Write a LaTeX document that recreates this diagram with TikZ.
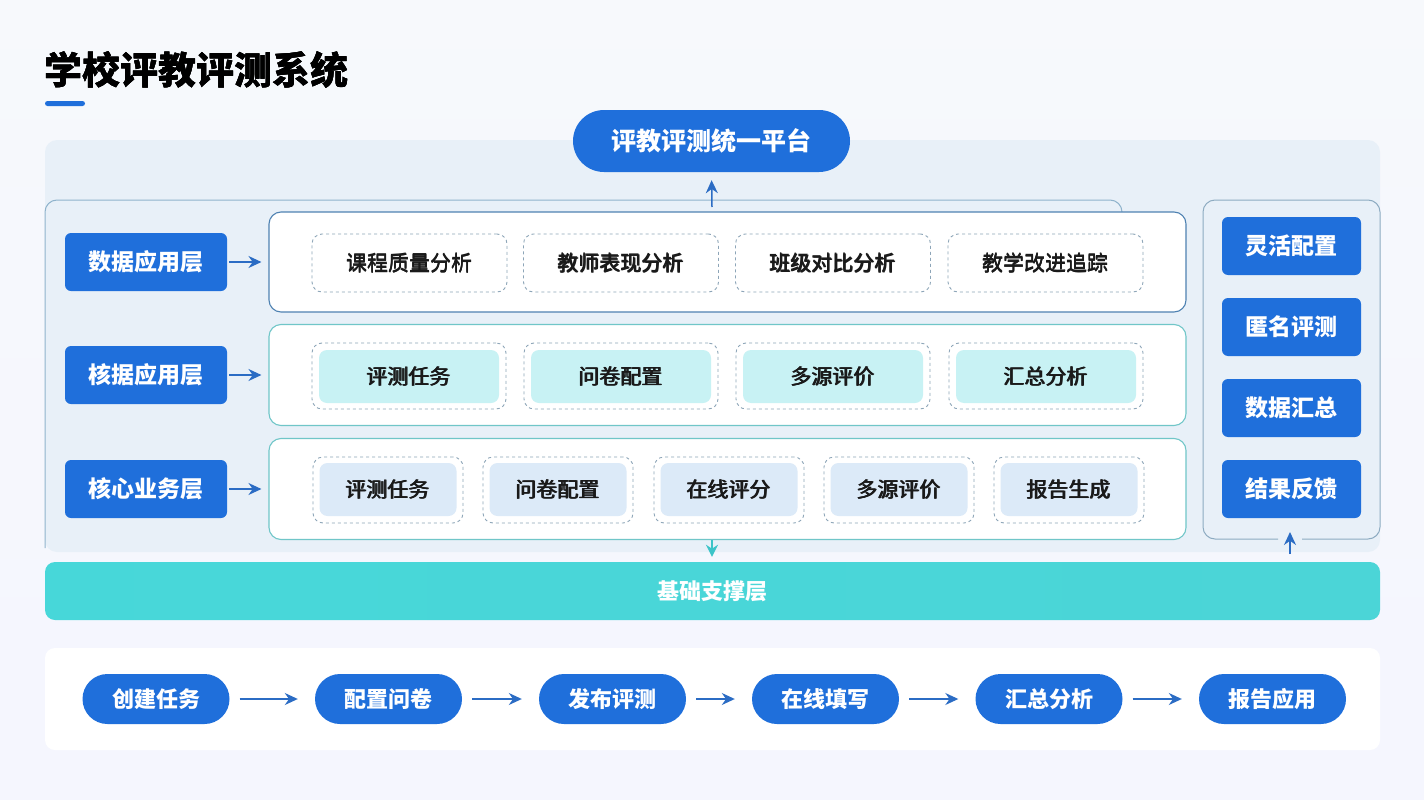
\documentclass[tikz,border=0pt]{standalone}
\usepackage{fontspec}
\setmainfont{Noto Sans CJK SC}
\usetikzlibrary{arrows.meta}
\newcommand\mbold[1]{\leavevmode\rlap{#1}\rlap{\raisebox{0.45pt}{#1}}\hspace{0.5pt}#1}
\definecolor{cblue}{HTML}{1F6FDB}
\definecolor{ablue}{HTML}{2B6CC4}
\definecolor{cteal}{HTML}{3CC4C8}
\definecolor{bgc}{HTML}{F1F5FA}
\definecolor{panelc}{HTML}{E8F0F8}
\definecolor{lay1}{HTML}{4F82B2}
\definecolor{lay2}{HTML}{70C6C8}
\definecolor{dashc}{HTML}{8DA5B8}
\definecolor{cyanf}{HTML}{C8F2F4}
\definecolor{bluef}{HTML}{DCEAF8}
\definecolor{framec}{HTML}{8FB3CC}
\definecolor{basec}{HTML}{4BD5D7}
\definecolor{txt}{HTML}{1A1A1A}
\tikzset{
  lab/.style={fill=cblue, text=white, font=\bfseries\fontsize{23}{25}\selectfont, rounded corners=6pt, minimum width=162pt, minimum height=58pt, inner sep=0pt},
  layerA/.style={draw=lay1, line width=1.1pt, fill=white, rounded corners=12pt, minimum width=917pt, minimum height=100pt, inner sep=0pt},
  layerB/.style={draw=lay2, line width=1.1pt, fill=white, rounded corners=12pt, minimum width=917pt, minimum height=101pt, inner sep=0pt},
  cardA/.style={draw=dashc, dashed, line width=0.9pt, fill=white, rounded corners=10pt, minimum width=195pt, minimum height=58pt, inner sep=0pt, text=txt, font=\fontsize{21}{23}\selectfont},
  cardBo/.style={draw=dashc, dashed, line width=0.9pt, fill=white, rounded corners=10pt, minimum width=194pt, minimum height=66pt, inner sep=0pt},
  cardBi/.style={fill=cyanf, rounded corners=8pt, minimum width=180pt, minimum height=53pt, inner sep=0pt, text=txt, font=\fontsize{21}{23}\selectfont},
  cardCo/.style={draw=dashc, dashed, line width=0.9pt, fill=white, rounded corners=10pt, minimum width=150pt, minimum height=66pt, inner sep=0pt},
  cardCi/.style={fill=bluef, rounded corners=8pt, minimum width=137pt, minimum height=53pt, inner sep=0pt, text=txt, font=\fontsize{21}{23}\selectfont},
  rbtn/.style={fill=cblue, text=white, font=\bfseries\fontsize{23}{25}\selectfont, rounded corners=6pt, minimum width=139pt, minimum height=58pt, inner sep=0pt},
  pill/.style={fill=cblue, text=white, font=\bfseries\fontsize{22}{24}\selectfont, rounded corners=25pt, minimum width=147pt, minimum height=50pt, inner sep=0pt},
  arr/.style={-{Stealth[length=13pt,width=12pt]}, draw=ablue, line width=1.5pt},
  tarr/.style={-{Stealth[length=12pt,width=12pt]}, draw=cteal, line width=2pt},
}
\begin{document}
\begin{tikzpicture}[x=1pt,y=-1pt]
\useasboundingbox (0,0) rectangle (1424,800);
% background
\shade[top color=bgc!60!white, bottom color=bgc!85!blue!20!white] (0,0) rectangle (1424,800);
% title
\node[anchor=west, inner sep=0pt, text=black, font=\bfseries\fontsize{38}{40}\selectfont] (title) at (44,70) {\mbold{学校评教评测系统}};
\fill[cblue, rounded corners=2.5pt] (45,101) rectangle (85,106);
% big light panel
\fill[panelc, rounded corners=12pt] (45,140) rectangle (1380,552);
% frame line
\draw[framec, line width=1pt, rounded corners=12pt] (1122,212) -- (1122,200) -- (45,200) -- (45,548);
% platform
\node[fill=cblue, text=white, font=\bfseries\fontsize{25}{27}\selectfont, rounded corners=31pt, minimum width=277pt, minimum height=62pt, inner sep=0pt] (plat) at (711.5,141) {评教评测统一平台};
% layers
\node[layerA] (L1) at (727.5,262) {};
\node[layerB] (L2) at (727.5,375) {};
\node[layerB] (L3) at (727.5,489) {};
\coordinate (upfrom) at (712,207);
\draw[arr, shorten >=8pt] (upfrom) -- (plat.south);
% labels
\node[lab] (l1) at (146,262) {数据应用层};
\node[lab] (l2) at (146,375) {核据应用层};
\node[lab] (l3) at (146,489) {核心业务层};
\draw[arr, shorten <=2pt, shorten >=7pt] (l1) -- (L1);
\draw[arr, shorten <=2pt, shorten >=7pt] (l2) -- (L2);
\draw[arr, shorten <=2pt, shorten >=7pt] (l3) -- (L3);
% row 1
\node[cardA] (a1) at (409.5,263) {\mbold{课程质量分析}};
\node[cardA] (a2) at (621,263) {\mbold{教师表现分析}};
\node[cardA] (a3) at (833,263) {\mbold{班级对比分析}};
\node[cardA] (a4) at (1045.5,263) {\mbold{教学改进追踪}};
% row 2
\foreach \x/\t/\n in {409/评测任务/1, 621/问卷配置/2, 833/多源评价/3, 1046/汇总分析/4}{
  \node[cardBo] (b\n o) at (\x,376) {};
  \node[cardBi] (b\n) at (\x,376.5) {\mbold{\t}};
}
% row 3
\foreach \x/\t/\n in {388/评测任务/1, 558/问卷配置/2, 729/在线评分/3, 899/多源评价/4, 1069/报告生成/5}{
  \node[cardCo] (c\n o) at (\x,490) {};
  \node[cardCi] (c\n) at (\x,489.5) {\mbold{\t}};
}
% right panel
\draw[framec!85!gray, line width=1pt, rounded corners=12pt] (1302,539) -- (1380,539) -- (1380,200) -- (1203,200) -- (1203,539) -- (1278,539);
\node[rbtn] (r1) at (1291.5,246) {灵活配置};
\node[rbtn] (r2) at (1291.5,327) {匿名评测};
\node[rbtn] (r3) at (1291.5,408) {数据汇总};
\node[rbtn] (r4) at (1291.5,489) {结果反馈};
% base bar
\shade[left color=basec!95!cyan, right color=basec, rounded corners=10pt] (45,562) rectangle (1380,620);
\node[text=white, font=\bfseries\fontsize{22}{24}\selectfont, inner sep=0pt, minimum width=1335pt, minimum height=58pt] (base) at (712.5,591) {基础支撑层};
\coordinate (dn) at (712,540);
\draw[tarr, shorten >=5pt] (dn) -- (base.north -| dn);
\coordinate (rpup) at (1290,532);
\coordinate (rpfrom) at (1290,554);
\draw[arr, line width=1.4pt] (rpfrom) -- (rpup);
% bottom panel
\fill[white, rounded corners=10pt] (45,648) rectangle (1380,750);
\node[pill] (p1) at (156,699) {创建任务};
\node[pill] (p2) at (388.5,699) {配置问卷};
\node[pill] (p3) at (612.5,699) {发布评测};
\node[pill] (p4) at (825.5,699) {在线填写};
\node[pill] (p5) at (1049,699) {汇总分析};
\node[pill] (p6) at (1272.5,699) {报告应用};
\foreach \a/\b in {p1/p2, p2/p3, p3/p4, p4/p5, p5/p6}{
  \draw[arr, line width=1.4pt, shorten <=10pt, shorten >=17pt] (\a) -- (\b);
}
\end{tikzpicture}
\end{document}
